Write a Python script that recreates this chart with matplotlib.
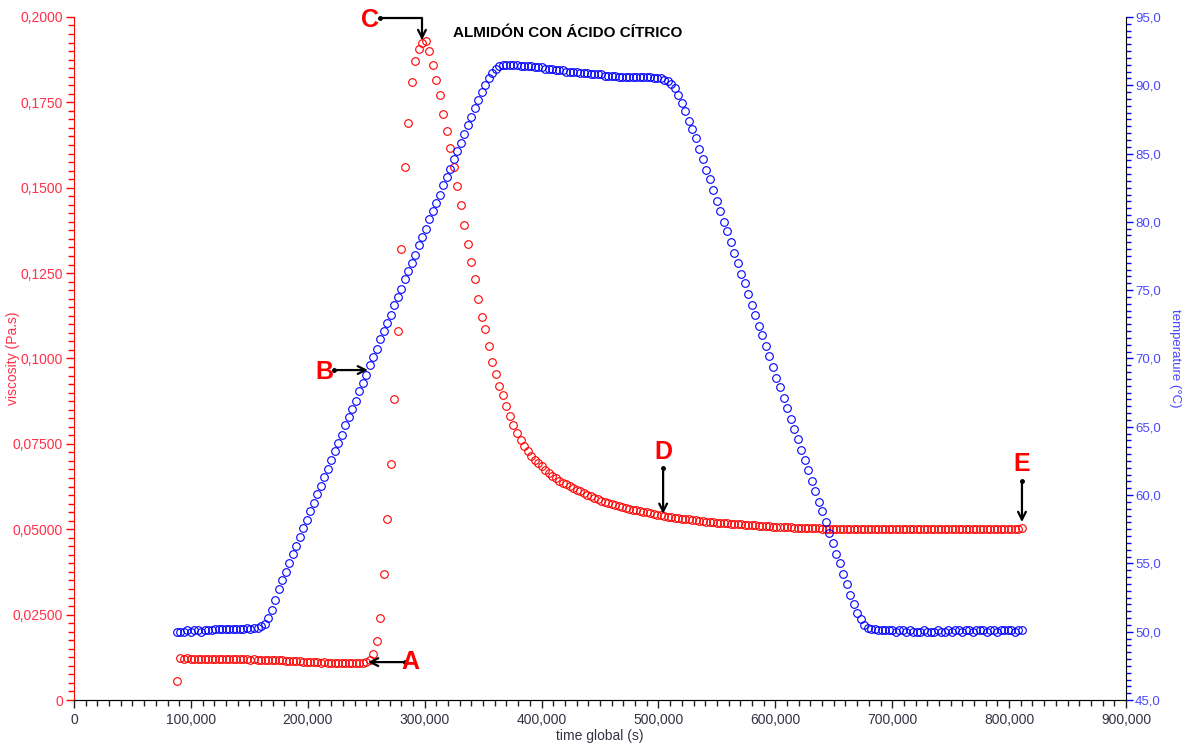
import matplotlib
matplotlib.use('Agg')
import matplotlib.pyplot as plt
from matplotlib.ticker import FixedLocator, MultipleLocator

plt.rcParams['font.family'] = ['Liberation Sans', 'DejaVu Sans']

# --- data (time in thousands of seconds) ---
time_ks = [
    88, 91, 94, 97, 100, 103, 106, 109, 112, 115,
    118, 121, 124, 127, 130, 133, 136, 139, 142, 145,
    148, 151, 154, 157, 160, 163, 166, 169, 172, 175,
    178, 181, 184, 187, 190, 193, 196, 199, 202, 205,
    208, 211, 214, 217, 220, 223, 226, 229, 232, 235,
    238, 241, 244, 247, 250, 253, 256, 259, 262, 265,
    268, 271, 274, 277, 280, 283, 286, 289, 292, 295,
    298, 301, 304, 307, 310, 313, 316, 319, 322, 325,
    328, 331, 334, 337, 340, 343, 346, 349, 352, 355,
    358, 361, 364, 367, 370, 373, 376, 379, 382, 385,
    388, 391, 394, 397, 400, 403, 406, 409, 412, 415,
    418, 421, 424, 427, 430, 433, 436, 439, 442, 445,
    448, 451, 454, 457, 460, 463, 466, 469, 472, 475,
    478, 481, 484, 487, 490, 493, 496, 499, 502, 505,
    508, 511, 514, 517, 520, 523, 526, 529, 532, 535,
    538, 541, 544, 547, 550, 553, 556, 559, 562, 565,
    568, 571, 574, 577, 580, 583, 586, 589, 592, 595,
    598, 601, 604, 607, 610, 613, 616, 619, 622, 625,
    628, 631, 634, 637, 640, 643, 646, 649, 652, 655,
    658, 661, 664, 667, 670, 673, 676, 679, 682, 685,
    688, 691, 694, 697, 700, 703, 706, 709, 712, 715,
    718, 721, 724, 727, 730, 733, 736, 739, 742, 745,
    748, 751, 754, 757, 760, 763, 766, 769, 772, 775,
    778, 781, 784, 787, 790, 793, 796, 799, 802, 805,
    808, 811,
]

viscosity = [
    .0055, .0122, .0121, .0122, .0121, .0121, .0120, .0121, .0120, .0121,
    .0120, .0120, .0121, .0120, .0119, .0120, .0120, .0119, .0120, .0119,
    .0119, .0118, .0119, .0118, .0118, .0117, .0118, .0117, .0116, .0117,
    .0116, .0115, .0115, .0114, .0114, .0113, .0112, .0112, .0111, .0110,
    .0110, .0109, .0110, .0109, .0108, .0109, .0108, .0108, .0107, .0108,
    .0108, .0107, .0108, .0109, .0111, .0116, .0135, .0172, .0240, .0370,
    .0530, .0690, .0880, .1080, .1320, .1560, .1690, .1810, .1870, .1905,
    .1925, .1930, .1900, .1860, .1815, .1770, .1715, .1665, .1615, .1560,
    .1505, .1450, .1390, .1335, .1282, .1232, .1175, .1122, .1085, .1035,
    .0990, .0955, .0918, .0892, .0862, .0832, .0805, .0782, .0762, .0745,
    .0728, .0714, .0703, .0694, .0684, .0673, .0664, .0656, .0649, .0642,
    .0636, .0631, .0626, .0621, .0616, .0611, .0606, .0601, .0596, .0592,
    .0588, .0583, .0579, .0576, .0573, .0570, .0567, .0564, .0562, .0559,
    .0557, .0555, .0553, .0551, .0549, .0547, .0545, .0543, .0541, .0539,
    .0537, .0535, .0534, .0533, .0531, .0530, .0529, .0527, .0526, .0525,
    .0524, .0522, .0521, .0520, .0519, .0518, .0518, .0517, .0516, .0515,
    .0514, .0514, .0513, .0512, .0512, .0511, .0510, .0510, .0509, .0509,
    .0508, .0508, .0507, .0507, .0506, .0506, .0505, .0505, .0505, .0504,
    .0504, .0503, .0503, .0503, .0502, .0502, .0502, .0502, .0501, .0501,
    .0501, .0502, .0501, .0500, .0501, .0501, .0502, .0501, .0500, .0501,
    .0501, .0500, .0501, .0502, .0501, .0500, .0501, .0501, .0500, .0501,
    .0502, .0501, .0500, .0501, .0501, .0502, .0501, .0500, .0501, .0501,
    .0500, .0501, .0502, .0501, .0501, .0500, .0501, .0501, .0502, .0501,
    .0501, .0500, .0501, .0501, .0502, .0501, .0501, .0500, .0501, .0502,
    .0502, .0503,
]

temperature = [
    50.0, 50.0, 50.0, 50.1, 50.0, 50.1, 50.1, 50.0, 50.1, 50.1,
    50.1, 50.2, 50.2, 50.2, 50.2, 50.2, 50.2, 50.2, 50.2, 50.2,
    50.3, 50.2, 50.3, 50.3, 50.4, 50.6, 51.0, 51.6, 52.3, 53.1,
    53.8, 54.4, 55.0, 55.7, 56.3, 56.9, 57.6, 58.2, 58.8, 59.4,
    60.1, 60.7, 61.3, 61.9, 62.6, 63.2, 63.8, 64.4, 65.1, 65.7,
    66.3, 66.9, 67.6, 68.2, 68.8, 69.5, 70.1, 70.7, 71.4, 72.0,
    72.6, 73.2, 73.9, 74.5, 75.1, 75.8, 76.4, 77.0, 77.6, 78.3,
    78.9, 79.5, 80.2, 80.8, 81.4, 82.0, 82.7, 83.3, 83.9, 84.6,
    85.2, 85.8, 86.4, 87.1, 87.7, 88.3, 88.9, 89.5, 90.0, 90.5,
    90.9, 91.2, 91.4, 91.5, 91.5, 91.5, 91.5, 91.5, 91.4, 91.4,
    91.4, 91.4, 91.3, 91.3, 91.3, 91.2, 91.2, 91.2, 91.1, 91.1,
    91.1, 91.0, 91.0, 91.0, 91.0, 90.9, 90.9, 90.9, 90.8, 90.8,
    90.8, 90.8, 90.7, 90.7, 90.7, 90.7, 90.6, 90.6, 90.6, 90.6,
    90.6, 90.6, 90.6, 90.6, 90.6, 90.6, 90.5, 90.5, 90.5, 90.4,
    90.3, 90.1, 89.8, 89.3, 88.7, 88.1, 87.4, 86.8, 86.1, 85.3,
    84.6, 83.8, 83.1, 82.3, 81.5, 80.8, 80.0, 79.3, 78.5, 77.7,
    77.0, 76.2, 75.5, 74.7, 73.9, 73.2, 72.4, 71.7, 70.9, 70.2,
    69.4, 68.6, 67.9, 67.1, 66.4, 65.6, 64.8, 64.1, 63.3, 62.6,
    61.8, 61.0, 60.3, 59.5, 58.8, 58.0, 57.2, 56.5, 55.7, 55.0,
    54.2, 53.5, 52.7, 52.0, 51.4, 50.9, 50.5, 50.3, 50.2, 50.2,
    50.1, 50.1, 50.1, 50.1, 50.1, 50.0, 50.1, 50.1, 50.0, 50.1,
    50.0, 50.0, 50.0, 50.1, 50.0, 50.0, 50.0, 50.1, 50.0, 50.0,
    50.1, 50.0, 50.1, 50.1, 50.0, 50.1, 50.1, 50.0, 50.1, 50.1,
    50.1, 50.0, 50.1, 50.1, 50.0, 50.1, 50.1, 50.1, 50.1, 50.0,
    50.1, 50.1,
]

x_ticks = [0, 100000, 200000, 300000, 400000, 500000, 600000, 700000, 800000, 900000]
x_labels = ['0', '100,000', '200,000', '300,000', '400,000', '500,000',
            '600,000', '700,000', '800,000', '900,000']
visc_ticks = [0, 0.025, 0.05, 0.075, 0.1, 0.125, 0.15, 0.175, 0.2]
visc_labels = ['0', '0,02500', '0,05000', '0,07500', '0,1000', '0,1250',
               '0,1500', '0,1750', '0,2000']
temp_ticks = [45, 50, 55, 60, 65, 70, 75, 80, 85, 90, 95]
temp_labels = ['45,0', '50,0', '55,0', '60,0', '65,0', '70,0', '75,0',
               '80,0', '85,0', '90,0', '95,0']

# letter annotations: (letter, text pos, arrow tail, arrow head) in data units
notes = [
    ('A', (288000, 0.0111), (283000, 0.0111), (251500, 0.0111)),
    ('B', (214500, 0.0960), (222500, 0.0966), (251500, 0.0966)),
    ('D', (504500, 0.0725), (504000, 0.0679), (504000, 0.0545)),
    ('E', (811000, 0.0690), (811000, 0.0640), (811000, 0.0521)),
]

RED = '#ff0000'
BLUE = '#0000ff'
RED_TXT = '#ff3048'
BLUE_TXT = '#4848ff'

time_s = [t * 1000 for t in time_ks]

fig = plt.figure(figsize=(11.84, 7.54), dpi=100)
ax1 = fig.add_axes([0.0625, 0.0716, 0.8885, 0.906])
ax2 = ax1.twinx()

ax1.plot(time_s, viscosity, linestyle='none', marker='o', markersize=5.5,
         markerfacecolor='none', markeredgecolor=RED, markeredgewidth=0.8)
ax2.plot(time_s, temperature, linestyle='none', marker='o', markersize=5.5,
         markerfacecolor='none', markeredgecolor=BLUE, markeredgewidth=0.8)

ax1.set_xlim(0, 900000)
ax1.set_ylim(0, 0.2)
ax2.set_ylim(45, 95)

ax1.xaxis.set_major_locator(FixedLocator(x_ticks))
ax1.set_xticklabels(x_labels)
ax1.xaxis.set_minor_locator(MultipleLocator(10000))
ax1.yaxis.set_major_locator(FixedLocator(visc_ticks))
ax1.set_yticklabels(visc_labels)
ax1.yaxis.set_minor_locator(MultipleLocator(0.0025))
ax2.yaxis.set_major_locator(FixedLocator(temp_ticks))
ax2.set_yticklabels(temp_labels)
ax2.yaxis.set_minor_locator(MultipleLocator(0.5))

for ax in (ax1, ax2):
    ax.spines['top'].set_visible(False)
ax1.spines['right'].set_visible(False)
ax1.spines['left'].set_color(RED)
ax2.spines['left'].set_visible(False)
ax2.spines['right'].set_color('black')
ax1.spines['bottom'].set_color('#222222')

ax1.tick_params(axis='x', which='major', length=6, width=1, colors='#222222',
                labelsize=10, labelcolor='#333344', pad=3)
ax1.tick_params(axis='x', which='minor', length=4, width=1, colors='#222222')
ax1.tick_params(axis='y', which='major', length=6, width=1, colors=RED,
                labelsize=10, labelcolor=RED_TXT, pad=2)
ax1.tick_params(axis='y', which='minor', length=4, width=1, colors=RED)
ax2.tick_params(axis='y', which='major', length=5, width=1, colors=BLUE,
                labelsize=9.5, labelcolor=BLUE_TXT, pad=1.5)
ax2.tick_params(axis='y', which='minor', length=3.5, width=1, colors=BLUE)

ax1.set_xlabel('time global (s)', fontsize=10, color='#333344', labelpad=2)
ax1.set_ylabel('viscosity (Pa.s)', fontsize=10, color=RED_TXT)
ax1.yaxis.set_label_coords(-0.051, 0.5)
ax2.set_ylabel('temperature (\u00b0C)', fontsize=9.5, color=BLUE_TXT, rotation=270,
               va='center')
ax2.yaxis.set_label_coords(1.047, 0.5)

ax1.text(0.469, 0.977, 'ALMIDÓN CON ÁCIDO CÍTRICO', transform=ax1.transAxes,
         ha='center', va='center', fontsize=11, fontweight='bold', color='black')

arrow_kw = dict(arrowstyle='->', color='black', lw=1.6, mutation_scale=14,
                shrinkA=0, shrinkB=0)

# C uses an elbow arrow down onto the peak
ax1.annotate('', xy=(297700, 0.1932), xytext=(262000, 0.1997),
             arrowprops=dict(connectionstyle='angle,angleA=0,angleB=90,rad=0', **arrow_kw),
             annotation_clip=False)
ax1.plot([262000], [0.1997], marker='o', markersize=2.5, color='black', clip_on=False)
ax1.text(253000, 0.1990, 'C', fontsize=18, fontweight='bold', color=RED,
         ha='center', va='center', clip_on=False)

for letter, txt, tail, head in notes:
    ax1.annotate('', xy=head, xytext=tail, arrowprops=arrow_kw, annotation_clip=False)
    ax1.plot([tail[0]], [tail[1]], marker='o', markersize=2.5, color='black')
    ax1.text(txt[0], txt[1], letter, fontsize=18, fontweight='bold', color=RED,
             ha='center', va='center')

fig.savefig('out.png', dpi=100)
